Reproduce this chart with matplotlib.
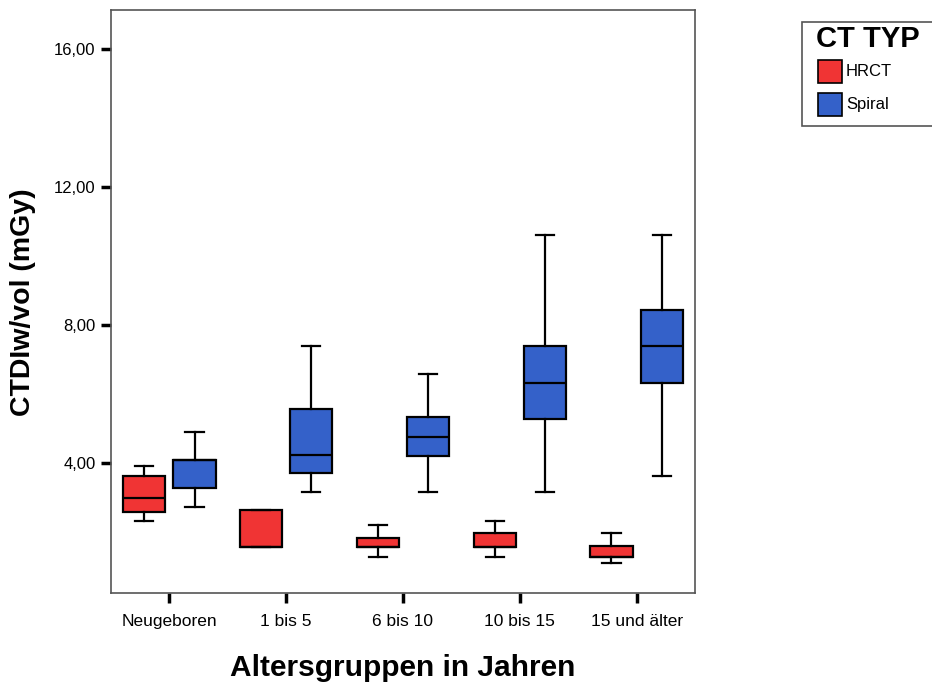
import matplotlib
matplotlib.use("Agg")
import matplotlib.pyplot as plt
from matplotlib.patches import Rectangle
from matplotlib.ticker import FuncFormatter

# ==============================
# DATEN
# ==============================

gruppen = ["Neugeboren", "1 bis 5", "6 bis 10", "10 bis 15", "15 und älter"]

# HRCT
hrct_min = [2.33, 1.57, 1.28, 1.28, 1.09]
hrct_q1 = [2.58, 1.57, 1.56, 1.56, 1.28]
hrct_med = [2.99, 1.57, 1.56, 1.56, 1.28]
hrct_q3 = [3.62, 2.64, 1.82, 1.98, 1.58]
hrct_max = [3.92, 2.64, 2.21, 2.33, 1.98]

# Spiral
spiral_min = [2.73, 3.16, 3.15, 3.15, 3.62]
spiral_q1 = [3.27, 3.71, 4.21, 5.27, 6.33]
spiral_med = [4.09, 4.23, 4.74, 6.33, 7.39]
spiral_q3 = [4.09, 5.57, 5.32, 7.38, 8.43]
spiral_max = [4.91, 7.39, 6.57, 10.62, 10.62]

y_ticks = [4, 8, 12, 16]

legende_titel = "CT TYP"
legende_namen = ["HRCT", "Spiral"]

farbe_hrct = "#F03434"
farbe_spiral = "#3461C9"

# ==============================
# FIGUR
# ==============================

plt.rcParams["font.family"] = ["Liberation Sans", "DejaVu Sans"]

W, H = 932, 687
fig = plt.figure(figsize=(W / 100, H / 100), dpi=100)
ax = fig.add_axes([111 / W, 1 - 593 / H, 584 / W, 583 / H])


def px(xp, yp):
    return xp / W, 1 - yp / H


def stats_liste(mins, q1s, meds, q3s, maxs):
    return [
        {"whislo": a, "q1": b, "med": c, "q3": d, "whishi": e, "fliers": []}
        for a, b, c, d, e in zip(mins, q1s, meds, q3s, maxs)
    ]


def zeichne(stats, positionen, farbe):
    ax.bxp(
        stats,
        positions=positionen,
        widths=0.36,
        capwidths=0.155,
        patch_artist=True,
        showfliers=False,
        boxprops=dict(facecolor=farbe, edgecolor="black", linewidth=1.6),
        medianprops=dict(color="black", linewidth=1.6),
        whiskerprops=dict(color="black", linewidth=1.6),
        capprops=dict(color="black", linewidth=1.6),
        manage_ticks=False,
    )


x = list(range(len(gruppen)))
zeichne(stats_liste(hrct_min, hrct_q1, hrct_med, hrct_q3, hrct_max),
        [i - 0.215 for i in x], farbe_hrct)
zeichne(stats_liste(spiral_min, spiral_q1, spiral_med, spiral_q3, spiral_max),
        [i + 0.215 for i in x], farbe_spiral)

ax.set_xlim(-0.5, 4.5)
ax.set_ylim(0.23, 17.13)
ax.set_xticks(x)
ax.set_xticklabels(gruppen, fontsize=12.5)
ax.set_yticks(y_ticks)
ax.yaxis.set_major_formatter(FuncFormatter(lambda v, p: f"{v:.2f}".replace(".", ",")))
ax.tick_params(axis="y", labelsize=12, pad=4)
ax.tick_params(direction="out", length=7, width=2.5, color="black")
ax.tick_params(axis="x", pad=8)

for s in ax.spines.values():
    s.set_color("#555555")
    s.set_linewidth(1.2)

fig.text(*px(23, 302), "CTDIw/vol (mGy)", fontsize=20.5, fontweight="bold",
         rotation=90, ha="center", va="center")
fig.text(*px(403, 668), "Altersgruppen in Jahren", fontsize=21.5,
         fontweight="bold", ha="center", va="center")

# ==============================
# LEGENDE (von Hand, rechts abgeschnitten wie im Original)
# ==============================

rahmen = Rectangle(px(802, 126), 150 / W, 104 / H, transform=fig.transFigure,
                   facecolor="white", edgecolor="#555555", linewidth=1.2)
fig.patches.append(rahmen)
fig.text(*px(816, 39), legende_titel, fontsize=21, fontweight="bold",
         ha="left", va="center")
for i, (name, farbe) in enumerate(zip(legende_namen, [farbe_hrct, farbe_spiral])):
    oben = 60 + i * 33
    fig.patches.append(Rectangle(px(818, oben + 23), 24 / W, 23 / H,
                                 transform=fig.transFigure, facecolor=farbe,
                                 edgecolor="black", linewidth=1.2))
    fig.text(*px(846, oben + 12), name, fontsize=12, ha="left", va="center")

plt.savefig("out.png", dpi=100)
plt.close()
